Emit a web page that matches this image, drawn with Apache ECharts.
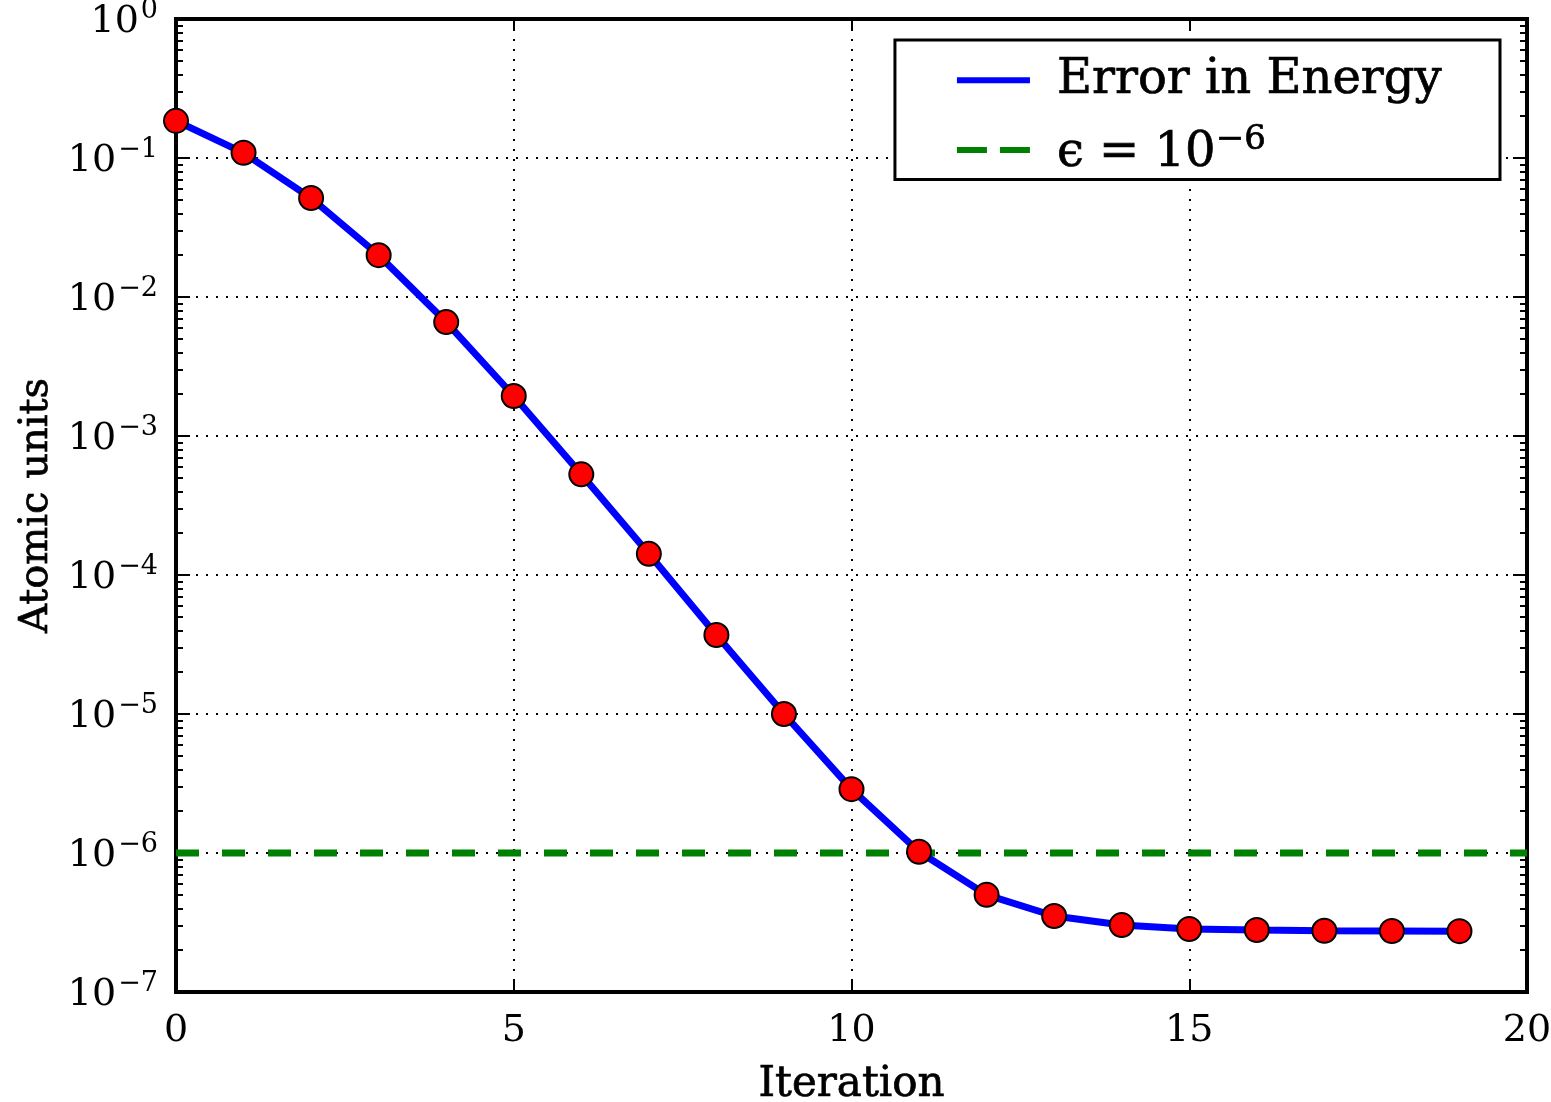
<!DOCTYPE html>
<html>
<head>
<meta charset="utf-8">
<script src="https://cdn.jsdelivr.net/npm/echarts@6/dist/echarts.min.js"></script>
<style>
  html, body { margin: 0; padding: 0; background: #fff; }
  #main { width: 1551px; height: 1102px; }
</style>
</head>
<body>
<div id="main"></div>
<script>
var iterations = [0, 1, 2, 3, 4, 5, 6, 7, 8, 9, 10, 11, 12, 13, 14, 15, 16, 17, 18, 19]
var errorEnergy = [0.185, 0.109, 0.0515, 0.02, 0.0066, 0.00194, 5.3e-4, 1.42e-4, 3.7e-5, 1.0e-5,
  2.88e-6, 1.02e-6, 5.0e-7, 3.52e-7, 3.03e-7, 2.84e-7, 2.79e-7, 2.76e-7, 2.75e-7, 2.74e-7]
var epsX = [0, 20]
var epsValue = 1e-6
var xTicks = [0, 5, 10, 15, 20]
var decades = [1e-7, 1e-6, 1e-5, 1e-4, 1e-3, 1e-2, 1e-1, 1]
var minorSteps = [2, 3, 4, 5, 6, 7, 8, 9]

// matplotlib style minor ticks, 2..9 in each decade
var minorTicks = []
for (var d = 0; d < decades.length - 1; d++) {
  for (var m = 0; m < minorSteps.length; m++) {
    minorTicks.push(+(minorSteps[m] * decades[d]).toPrecision(3))
  }
}

var font = 'DejaVu Serif'
var chart = echarts.init(document.getElementById('main'))

function expLabel(v) {
  var e = Math.round(Math.log10(v))
  var s = e < 0 ? '\u2212' + (-e) : '' + e
  return '{b|10}{s|' + s + '}'
}

var labelRich = {
  b: { fontFamily: font, fontSize: 38, color: '#000', lineHeight: 44, verticalAlign: 'bottom' },
  s: { fontFamily: font, fontSize: 27, color: '#000', lineHeight: 44, verticalAlign: 'top', padding: [0, 0, 0, 2] },
}

var yBase = {
  type: 'log',
  logBase: 10,
  min: 1e-7,
  max: 1,
  axisLine: { show: false },
  splitLine: { show: false },
  axisLabel: { show: false },
}

var heavy = { textBorderColor: '#000', textBorderWidth: 0.7 }

var option = {
  backgroundColor: '#fff',
  animation: false,
  grid: {
    left: 176, right: 24, top: 19, bottom: 110,
    outerBoundsMode: 'none',
    containLabel: false,
    show: true, borderColor: '#000', borderWidth: 4, backgroundColor: '#fff',
  },
  legend: {
    orient: 'vertical',
    right: 51,
    top: 40,
    backgroundColor: '#fff',
    borderColor: '#000',
    borderWidth: 3,
    borderRadius: 0,
    padding: [16, 58, 2, 62],
    itemGap: 18,
    itemWidth: 73,
    itemHeight: 6,
    textStyle: Object.assign({ fontFamily: font, fontSize: 48, color: '#000', padding: [0, 0, 0, 22] }, heavy),
    data: [
      { name: 'Error in Energy', icon: 'rect', itemStyle: { color: '#0000ff', borderWidth: 0 } },
      { name: 'eps', icon: 'path://M0,0h30v6h-30zM43,0h30v6h-30z', itemStyle: { color: '#008000', borderWidth: 0 } },
    ],
    formatter: function (name) {
      if (name === 'eps') return '{n|\u03f5 = 10}{s|\u22126}'
      return name
    },
  },
  xAxis: [
    {
      type: 'value',
      min: 0, max: 20, interval: 5,
      position: 'bottom',
      name: 'Iteration',
      nameLocation: 'middle',
      nameGap: 72,
      nameTextStyle: Object.assign({ fontFamily: font, fontSize: 42, color: '#000' }, heavy),
      axisLine: { show: false },
      axisTick: { show: true, inside: true, length: 12, lineStyle: { color: '#000', width: 2 } },
      axisLabel: { margin: 20, fontFamily: font, fontSize: 38, color: '#000',
        customValues: xTicks },
      splitLine: { show: true, lineStyle: { color: '#000', width: 2, type: [2, 8] } },
    },
    {
      type: 'value',
      min: 0, max: 20, interval: 5,
      position: 'top',
      axisLine: { show: false },
      axisTick: { show: true, inside: true, length: 12, lineStyle: { color: '#000', width: 2 } },
      axisLabel: { show: false },
      splitLine: { show: false },
    },
  ],
  yAxis: [
    Object.assign({}, yBase, {
      position: 'left',
      name: 'Atomic units',
      nameLocation: 'middle',
      nameGap: 118,
      nameRotate: 90,
      nameTextStyle: Object.assign({ fontFamily: font, fontSize: 40, color: '#000' }, heavy),
      axisTick: { show: true, inside: true, length: 14, customValues: decades,
        lineStyle: { color: '#000', width: 2 } },
      axisLabel: { show: true, margin: 18, customValues: decades, formatter: expLabel, rich: labelRich },
      splitLine: { show: true, lineStyle: { color: '#000', width: 2, type: [2, 8] } },
    }),
    Object.assign({}, yBase, {
      position: 'left',
      axisTick: { show: true, inside: true, length: 7, customValues: minorTicks,
        lineStyle: { color: '#000', width: 2 } },
    }),
    Object.assign({}, yBase, {
      position: 'right',
      axisTick: { show: true, inside: true, length: 14, customValues: decades,
        lineStyle: { color: '#000', width: 2 } },
    }),
    Object.assign({}, yBase, {
      position: 'right',
      axisTick: { show: true, inside: true, length: 7, customValues: minorTicks,
        lineStyle: { color: '#000', width: 2 } },
    }),
  ],
  series: [
    {
      name: 'eps',
      type: 'line',
      data: epsX.map(function (x) { return [x, epsValue] }),
      symbol: 'none',
      lineStyle: { color: '#008000', width: 7, type: [23, 23] },
      itemStyle: { color: '#008000' },
      z: 3,
    },
    {
      name: 'Error in Energy',
      type: 'line',
      data: iterations.map(function (x, i) { return [x, errorEnergy[i]] }),
      symbol: 'circle',
      symbolSize: 24,
      showAllSymbol: true,
      lineStyle: { color: '#0000ff', width: 7 },
      itemStyle: { color: '#ff0000', borderColor: '#000', borderWidth: 2 },
      z: 4,
    },
  ],
}
option.legend.textStyle.rich = {
  n: Object.assign({ fontFamily: font, fontSize: 48, color: '#000', lineHeight: 54, verticalAlign: 'bottom' }, heavy),
  s: Object.assign({ fontFamily: font, fontSize: 34, color: '#000', lineHeight: 54, verticalAlign: 'top' }, heavy),
}
chart.setOption(option)
</script>
</body>
</html>
